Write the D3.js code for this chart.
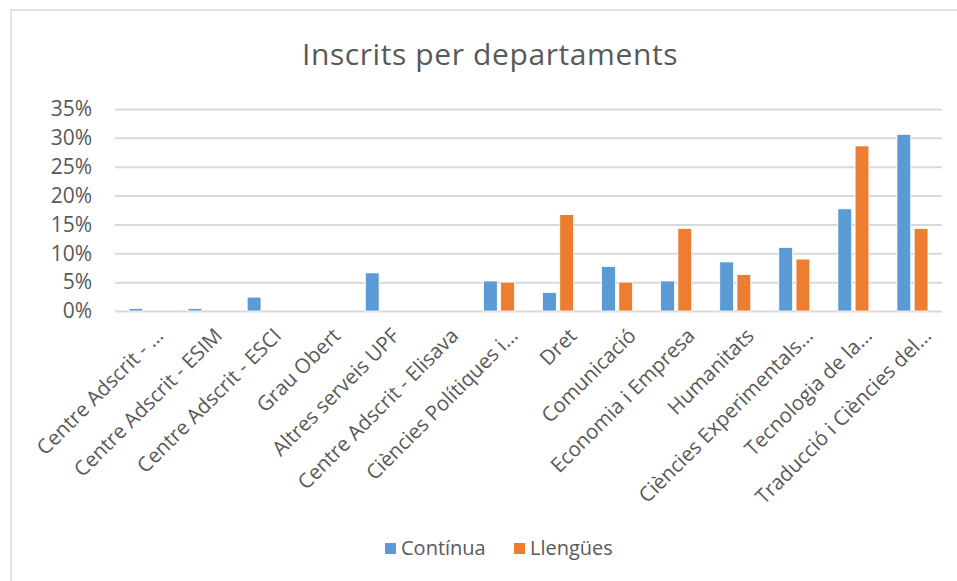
<!DOCTYPE html>
<html>
<head>
<meta charset="utf-8">
<script src="https://cdn.jsdelivr.net/npm/d3@7"></script>
<style>
    body { margin: 0; background: #fff; }
    svg { display: block; font-family: "Open Sans", sans-serif; }
</style>
</head>
<body>
<svg id="chart"></svg>
<script>
// Categories as Excel shows them (already truncated)
const departments = [
    "Centre Adscrit - …",
    "Centre Adscrit - ESIM",
    "Centre Adscrit - ESCI",
    "Grau Obert",
    "Altres serveis UPF",
    "Centre Adscrit - Elisava",
    "Ciències Polítiques i…",
    "Dret",
    "Comunicació",
    "Economia i Empresa",
    "Humanitats",
    "Ciències Experimentals…",
    "Tecnologia de la…",
    "Traducció i Ciències del…"
];
const seriesNames = ["Contínua", "Llengües"];
// percentages
const continua = [0.4, 0.4, 2.4, 0, 6.6, 0, 5.2, 3.2, 7.7, 5.2, 8.5, 11.0, 17.7, 30.6];
const llengues = [0, 0, 0, 0, 0, 0, 5.0, 16.7, 5.0, 14.3, 6.3, 9.0, 28.6, 14.3];
const yTicks = [0, 5, 10, 15, 20, 25, 30, 35];
const colors = ["#5b9bd5", "#ed7d31"];

const W = 957, H = 581;
const margin = { top: 109, right: 15, bottom: 270, left: 115 };
const width = W - margin.left - margin.right;
const height = H - margin.top - margin.bottom;

const svg = d3.select("#chart").attr("width", W).attr("height", H);

// chart frame (only top/left visible in the crop)
svg.append("rect")
    .attr("x", 11).attr("y", 10)
    .attr("width", 980).attr("height", 620)
    .attr("fill", "none")
    .attr("stroke", "#d9d9d9")
    .attr("stroke-width", 1.5);

svg.append("text")
    .attr("x", 490).attr("y", 65)
    .attr("text-anchor", "middle")
    .attr("font-size", 30)
    .attr("letter-spacing", 0.6)
    .attr("fill", "#595959")
    .text("Inscrits per departaments");

const g = svg.append("g")
    .attr("transform", "translate(" + margin.left + "," + margin.top + ")");

const x0 = d3.scaleBand().domain(departments).range([0, width]);
const x1 = d3.scaleBand().domain(seriesNames)
    .range([x0.bandwidth() / 2 - 15.5, x0.bandwidth() / 2 + 15.5])
    .paddingInner(0.2);
const y = d3.scaleLinear().domain([0, 35]).range([height, 0]);

// gridlines + labels
const yAxis = g.append("g")
    .call(d3.axisLeft(y).tickValues(yTicks).tickSize(-width).tickFormat(d => d + "%"));
yAxis.select(".domain").remove();
yAxis.selectAll(".tick line").attr("stroke", "#d9d9d9").attr("stroke-width", 2);
yAxis.selectAll(".tick text")
    .attr("x", -23)
    .attr("font-size", 21)
    .attr("font-family", "Open Sans, sans-serif")
    .attr("fill", "#595959");

const rows = departments.map((d, i) => ({ dep: d, values: [continua[i], llengues[i]] }));

const groups = g.selectAll(".dep")
    .data(rows)
    .enter()
    .append("g")
    .attr("class", "dep")
    .attr("transform", d => "translate(" + x0(d.dep) + ",0)");

groups.selectAll("rect")
    .data(d => d.values.map((v, j) => ({ key: seriesNames[j], v: v, c: colors[j] })))
    .enter()
    .append("rect")
    .filter(d => d.v > 0)
    .attr("x", d => x1(d.key))
    .attr("y", d => y(d.v))
    .attr("width", x1.bandwidth())
    .attr("height", d => y(0) - y(d.v))
    .attr("fill", d => d.c)
    .attr("stroke", "#fff")
    .attr("stroke-width", 0.75);

// x labels rotated -45
const xAxis = g.append("g")
    .attr("transform", "translate(0," + height + ")")
    .call(d3.axisBottom(x0).tickSize(0));
xAxis.select(".domain").remove();
xAxis.selectAll(".tick text")
    .attr("font-size", 20.5)
    .attr("font-family", "Open Sans, sans-serif")
    .attr("fill", "#595959")
    .attr("text-anchor", "end")
    .attr("y", 0).attr("dy", 0)
    .attr("transform", "translate(20,26) rotate(-45)");

// legend
const legend = svg.append("g").attr("transform", "translate(385,543)");
const items = legend.selectAll("g")
    .data(seriesNames)
    .enter()
    .append("g")
    .attr("transform", (d, i) => "translate(" + (i * 129) + ",0)");
items.append("rect")
    .attr("width", 11).attr("height", 11)
    .attr("fill", (d, i) => colors[i]);
items.append("text")
    .attr("x", 16).attr("y", 12)
    .attr("font-size", 20)
    .attr("fill", "#595959")
    .text(d => d);
</script>
</body>
</html>
